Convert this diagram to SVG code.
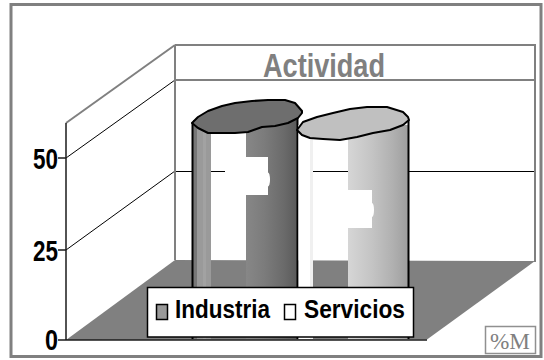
<svg xmlns="http://www.w3.org/2000/svg" width="544" height="360" viewBox="0 0 544 360">
<style>
.wall{fill:#ffffff;stroke:none}
.gline{stroke:#808080;stroke-width:2;fill:none}
.grid{stroke:#000000;stroke-width:1;fill:none}
.axis{stroke:#1a1a1a;stroke-width:1.5;fill:none}
.num{font-family:"Liberation Sans",Arial,sans-serif;font-weight:bold;font-size:29px;fill:#000000}
.leg{font-family:"Liberation Sans",Arial,sans-serif;font-weight:bold;font-size:25px;fill:#000000}
.edge{stroke:#000000;stroke-width:2;fill:none}
.top{stroke:#000000;stroke-width:2;stroke-linejoin:round}
</style>
<defs>
<linearGradient id="g1" x1="0" y1="0" x2="1" y2="0">
<stop offset="0" stop-color="#878787"/>
<stop offset="0.35" stop-color="#7c7c7c"/>
<stop offset="0.75" stop-color="#6a6a6a"/>
<stop offset="1" stop-color="#5a5a5a"/>
</linearGradient>
<linearGradient id="g2" x1="0" y1="0" x2="1" y2="0">
<stop offset="0" stop-color="#d6d6d6"/>
<stop offset="0.4" stop-color="#c4c4c4"/>
<stop offset="0.75" stop-color="#b0b0b0"/>
<stop offset="1" stop-color="#9e9e9e"/>
</linearGradient>
</defs>
<rect x="0" y="0" width="544" height="360" fill="#ffffff"/>
<rect id="frame" x="11" y="4.5" width="530" height="352" fill="#ffffff" stroke="#808080" stroke-width="3"/>

<g id="walls">
<polygon class="wall" points="66,123 175,45 175,260 66,340"/>
<rect class="wall" x="175" y="45" width="360" height="215"/>
<line class="grid" x1="66" y1="158" x2="175" y2="80"/>
<line class="grid" x1="66" y1="250" x2="175" y2="171"/>
<line class="grid" x1="175" y1="171.5" x2="225" y2="171.5"/>
<line class="grid" x1="313" y1="171.5" x2="535" y2="171.5"/>
<polygon id="floor" points="66,340 175,260 535,261 427,339.5" fill="#808080"/>
<line class="gline" x1="66" y1="123" x2="175" y2="45"/>
<line class="gline" x1="175" y1="45" x2="535" y2="45"/>
<line class="gline" x1="175" y1="80" x2="535" y2="80"/>
<line class="gline" x1="175" y1="45" x2="175" y2="260"/>
<line class="gline" x1="535" y1="44" x2="535" y2="262"/>
</g>

<g id="axis">
<line class="axis" x1="66" y1="123" x2="66" y2="340"/>
<line class="axis" x1="66" y1="340" x2="427" y2="340"/>
<line class="axis" x1="58" y1="158" x2="66" y2="158"/>
<line class="axis" x1="58" y1="250" x2="66" y2="250"/>
<line class="axis" x1="58" y1="340" x2="66" y2="340"/>
<text class="num" x="33" y="169" textLength="25" lengthAdjust="spacingAndGlyphs">50</text>
<text class="num" x="33" y="261" textLength="25" lengthAdjust="spacingAndGlyphs">25</text>
<text class="num" x="45" y="350" textLength="13" lengthAdjust="spacingAndGlyphs">0</text>
</g>

<g id="industria">
<rect x="193" y="120" width="4" height="219" fill="#777777"/>
<rect x="197" y="120" width="14" height="219" fill="#9a9a9a"/>
<rect x="203" y="120" width="3" height="219" fill="#a2a2a2"/>
<polygon points="246,120 297,120 297,339 246,339 246,195 268,195 268,157 246,157" fill="url(#g1)"/>
<ellipse cx="268" cy="179.5" rx="2" ry="7" fill="#ffffff"/>
<line class="edge" x1="192.5" y1="123" x2="192.5" y2="339"/>
<line class="edge" x1="297.5" y1="113" x2="297.5" y2="339"/>
<polygon class="top" fill="#6e6e6e" points="192,123 198,117 208,111 222,106 235,103 252,101 268,100 285,100 295,103 302,111 302,113 298,118 288,123 275,126 262,127 248,132 235,133 218,133 208,133 198,128"/>
</g>

<g id="servicios">
<rect x="298.5" y="125" width="12" height="214" fill="#ffffff"/>
<rect x="310" y="125" width="3" height="214" fill="#f0f0f0"/>
<polygon points="348,125 408,125 408,339 348,339 348,228 372,228 372,190 348,190" fill="url(#g2)"/>
<ellipse cx="372" cy="210" rx="2" ry="7" fill="#ffffff"/>
<line class="edge" x1="408.5" y1="120" x2="408.5" y2="339"/>
<polygon class="top" fill="#c0c0c0" points="297,130 303,122 317,117 333,113 350,109 367,107 387,107 403,112 408,117 409,120 403,125 390,130 373,133 357,137 340,140 323,139 310,138 302,135"/>
</g>

<g id="legend">
<rect x="147.5" y="287.5" width="266" height="49.5" fill="#ffffff" stroke="#000000" stroke-width="1.5"/>
<rect x="156.5" y="304.5" width="11" height="15" fill="#999999" stroke="#000000" stroke-width="1.5"/>
<text class="leg" x="175" y="318" textLength="95" lengthAdjust="spacingAndGlyphs">Industria</text>
<rect x="284.5" y="304.5" width="11" height="15" fill="#ffffff" stroke="#000000" stroke-width="1.5"/>
<text class="leg" x="304" y="318" textLength="101" lengthAdjust="spacingAndGlyphs">Servicios</text>
</g>

<g id="title">
<text x="263" y="77" font-family="'Liberation Sans',Arial,sans-serif" font-weight="bold" font-size="33" fill="#808080" textLength="122" lengthAdjust="spacingAndGlyphs">Actividad</text>
</g>

<g id="units">
<rect x="485.5" y="326.5" width="50" height="27" fill="#ffffff" stroke="#909090" stroke-width="1.5"/>
<text x="490" y="349" font-family="'Liberation Serif','Times New Roman',serif" font-size="24" fill="#808080" textLength="40" lengthAdjust="spacingAndGlyphs">%M</text>
</g>
</svg>
